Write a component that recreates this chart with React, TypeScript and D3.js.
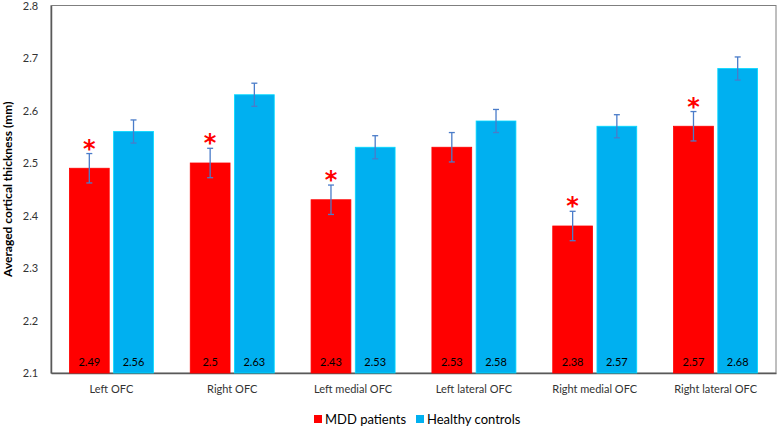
import { useEffect, useRef } from 'react';
import * as d3 from 'd3';

const regions = ['Left OFC', 'Right OFC', 'Left medial OFC', 'Left lateral OFC', 'Right medial OFC', 'Right lateral OFC'];
const mddValues = [2.49, 2.5, 2.43, 2.53, 2.38, 2.57];
const hcValues = [2.56, 2.63, 2.53, 2.58, 2.57, 2.68];
const mddErrors = [0.028, 0.028, 0.028, 0.028, 0.028, 0.028];
const hcErrors = [0.022, 0.022, 0.022, 0.022, 0.022, 0.022];
const significant = [true, true, true, false, true, true];
const yTicks = [2.1, 2.2, 2.3, 2.4, 2.5, 2.6, 2.7, 2.8];
const seriesNames = ['MDD patients', 'Healthy controls'];
const seriesColors = ['#ff0000', '#00b0f0'];

const FONT = 'Lato, "Noto Sans", sans-serif';

const App = () => {
  const chartRef = useRef<HTMLDivElement>(null);

  useEffect(() => {
    document.body.style.margin = '0';
    if (!chartRef.current) return;
    d3.select(chartRef.current).selectAll('svg').remove();

    const W = 780;
    const H = 427;
    const margin = { top: 5.5, right: 4, bottom: 54, left: 51 };
    const width = W - margin.left - margin.right;
    const height = H - margin.top - margin.bottom;

    const svg = d3.select(chartRef.current)
      .append('svg')
      .attr('width', W)
      .attr('height', H)
      .style('display', 'block')
      .style('font-family', FONT);

    const g = svg.append('g')
      .attr('transform', `translate(${margin.left},${margin.top})`);

    const x0 = d3.scaleBand().domain(regions).range([0, width]).padding(0);
    const x1 = d3.scaleBand().domain(seriesNames)
      .range([x0.bandwidth() / 2 - 42, x0.bandwidth() / 2 + 42])
      .paddingInner(0.1);
    const y = d3.scaleLinear().domain([2.1, 2.8]).range([height, 0]);

    // plot box
    g.append('rect')
      .attr('width', width)
      .attr('height', height)
      .attr('fill', 'none')
      .attr('stroke', '#7f7f7f')
      .attr('stroke-width', 1);

    // y axis
    g.append('g')
      .call(d3.axisLeft(y).tickValues(yTicks).tickSize(0).tickFormat(d3.format('.1f')))
      .call(s => s.select('.domain').attr('stroke', '#595959').attr('stroke-width', 1.5))
      .call(s => s.selectAll('text')
        .attr('dx', '-0.9em')
        .style('font-family', FONT)
        .style('font-size', '11px')
        .style('fill', '#333'));

    // x axis
    g.append('g')
      .attr('transform', `translate(0,${height})`)
      .call(d3.axisBottom(x0).tickSize(0))
      .call(s => s.select('.domain').attr('stroke', '#595959').attr('stroke-width', 1.5))
      .call(s => s.selectAll('text')
        .attr('dy', '1.55em')
        .style('font-family', FONT)
        .style('font-size', '11px')
        .style('fill', '#333'));

    // y axis title
    g.append('text')
      .attr('transform', 'rotate(-90)')
      .attr('x', -height / 2)
      .attr('y', -margin.left + 12)
      .attr('text-anchor', 'middle')
      .style('font-size', '12px')
      .style('font-weight', 'bold')
      .style('fill', '#000')
      .text('Averaged cortical thickness (mm)');

    const rows = regions.map((r, i) => ({
      region: r,
      bars: [
        { key: seriesNames[0], value: mddValues[i], err: mddErrors[i], sig: significant[i], color: seriesColors[0] },
        { key: seriesNames[1], value: hcValues[i], err: hcErrors[i], sig: false, color: seriesColors[1] },
      ],
    }));

    const groups = g.selectAll('.grp')
      .data(rows)
      .enter()
      .append('g')
      .attr('class', 'grp')
      .attr('transform', d => `translate(${x0(d.region)},0)`);

    const bars = groups.selectAll('.bar')
      .data(d => d.bars)
      .enter()
      .append('g')
      .attr('class', 'bar');

    bars.append('rect')
      .attr('x', d => x1(d.key)!)
      .attr('y', d => y(d.value))
      .attr('width', x1.bandwidth())
      .attr('height', d => height - y(d.value))
      .attr('fill', d => d.color)
      .attr('stroke', d => d3.color(d.color)!.brighter(0.6).toString())
      .attr('stroke-width', 0.8);

    const cx = (d: any) => x1(d.key)! + x1.bandwidth() / 2;

    // error bars
    bars.append('line')
      .attr('x1', cx).attr('x2', cx)
      .attr('y1', d => y(d.value + d.err))
      .attr('y2', d => y(d.value - d.err))
      .attr('stroke', '#4a7cc9')
      .attr('stroke-width', 1.3);
    [1, -1].forEach(sgn => {
      bars.append('line')
        .attr('x1', d => cx(d) - 3).attr('x2', d => cx(d) + 3)
        .attr('y1', d => y(d.value + sgn * d.err))
        .attr('y2', d => y(d.value + sgn * d.err))
        .attr('stroke', '#4a7cc9')
        .attr('stroke-width', 1.3);
    });

    // value labels
    bars.append('text')
      .attr('x', cx)
      .attr('y', height - 7.5)
      .attr('text-anchor', 'middle')
      .style('font-size', '11px')
      .style('fill', '#000')
      .text(d => String(d.value));

    // significance asterisks
    bars.filter(d => d.sig)
      .append('text')
      .attr('x', cx)
      .attr('y', d => y(d.value + d.err) + 3)
      .attr('text-anchor', 'middle')
      .style('font-family', '"DejaVu Sans", sans-serif')
      .style('font-size', '24px')
      .style('font-weight', 'bold')
      .style('fill', '#ff0000')
      .text('*');

    // legend
    const legend = svg.append('g').attr('transform', `translate(314, 419)`);
    const items = [
      { name: seriesNames[0], color: seriesColors[0], x: 0 },
      { name: seriesNames[1], color: seriesColors[1], x: 102 },
    ];
    items.forEach(it => {
      const row = legend.append('g').attr('transform', `translate(${it.x},0)`);
      row.append('rect')
        .attr('x', 0).attr('y', -4)
        .attr('width', 8).attr('height', 8)
        .attr('fill', it.color);
      row.append('text')
        .attr('x', 11).attr('y', 0)
        .attr('dy', '0.35em')
        .style('font-size', '13px')
        .style('fill', '#000')
        .text(it.name);
    });

    return () => {
      if (chartRef.current) d3.select(chartRef.current).selectAll('svg').remove();
    };
  }, []);

  return <div ref={chartRef} style={{ width: 780, height: 427 }}></div>;
};

export default App;
